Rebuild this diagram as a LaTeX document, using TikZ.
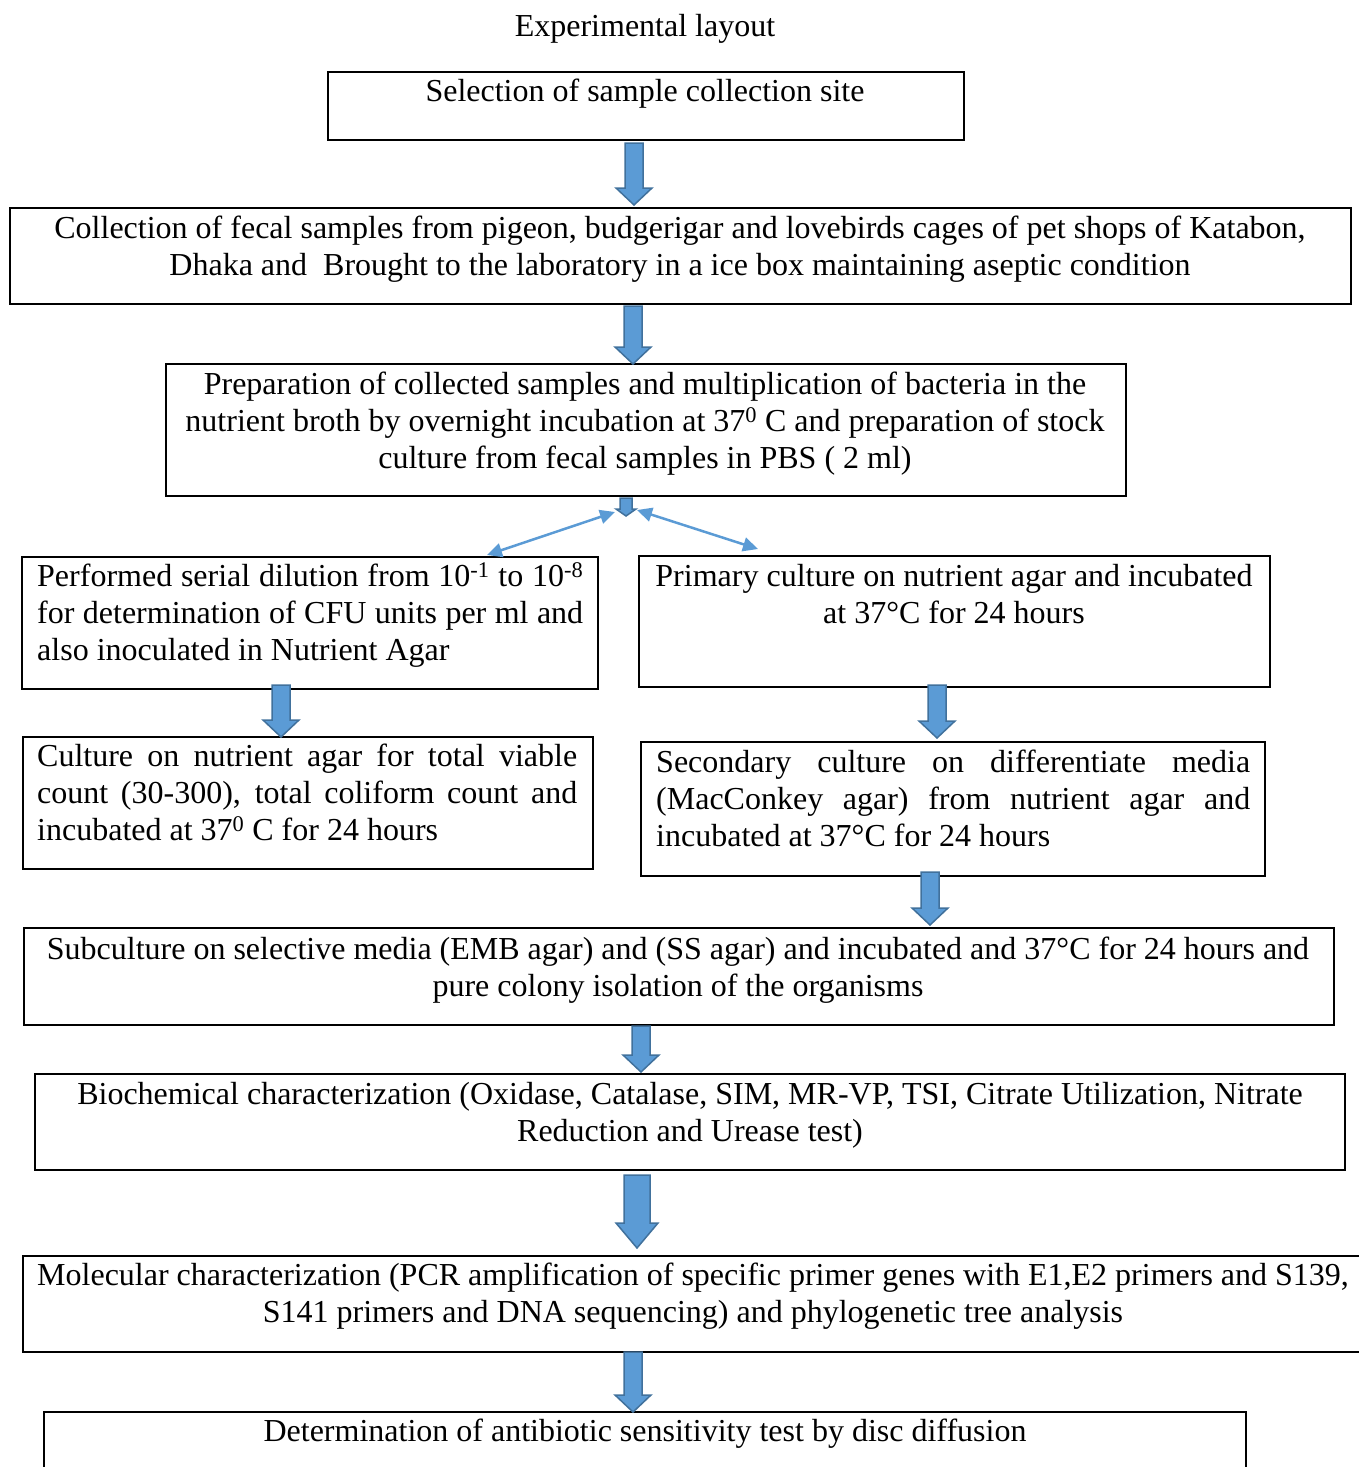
\documentclass[tikz,border=0pt]{standalone}
\usepackage{fontspec}
\setmainfont{Liberation Serif}
\usetikzlibrary{arrows.meta}
\definecolor{afill}{HTML}{5B9BD5}
\definecolor{aline}{HTML}{41719C}
\tikzset{
  box/.style={draw=black,line width=2pt,inner sep=0pt,rectangle},
  txt/.style={font=\fontsize{32}{37}\selectfont,inner sep=0pt,anchor=north},
  barr/.style={fill=afill,draw=aline,line width=1.5pt,line join=miter},
  thin/.style={draw=afill,line width=2.5pt,{Triangle[length=15pt,width=14pt]}-{Triangle[length=15pt,width=14pt]}}
}
\newcommand{\bx}[5]{\node[box,minimum width={#4-#2},minimum height={#5-#3}] (#1) at ({(#2+#4)/2},{(#3+#5)/2}) {};}
\newcommand{\barrowdraw}[6]{\draw[barr] (#1-#4,#2) -- (#1+#4,#2) -- (#1+#4,#3-#6) -- (#1+#5,#3-#6) -- (#1,#3) -- (#1-#5,#3-#6) -- (#1-#4,#3-#6) -- cycle;}
\begin{document}
\begin{tikzpicture}[x=1pt,y=-1pt]
\useasboundingbox (0,0) rectangle (1359,1467);
\node[txt] (title) at (645,26-16) {\strut Experimental layout};
% boxes
\bx{b1}{328}{72}{964}{140}
\bx{b2}{10}{208}{1351}{304}
\bx{b3}{166}{364}{1126}{496}
\bx{b4}{22}{557}{598}{689}
\bx{b5}{639}{556}{1270}{687}
\bx{b6}{23}{737}{593}{869}
\bx{b7}{641}{742}{1265}{876}
\bx{b8}{24}{928}{1334}{1025}
\bx{b9}{35}{1074}{1345}{1170}
\bx{b10}{23}{1256}{1375}{1352}
\bx{b11}{44}{1412}{1246}{1485}
% texts
\node[txt] (t1) at (645,91-16) {\strut Selection of sample collection site};
\node[txt,align=center] (t2) at (680,228-16) {\strut Collection of fecal samples from pigeon, budgerigar and lovebirds cages of pet shops of Katabon,\\Dhaka and \ Brought to the laboratory in a ice box maintaining aseptic condition};
\node[txt,align=center] (t3) at (645,384-16) {\strut Preparation of collected samples and multiplication of bacteria in the\\nutrient broth by overnight incubation at 37\textsuperscript{0} C and preparation of stock\\culture from fecal samples in PBS ( 2 ml)};
\node[txt,anchor=north west,text width=546pt,align=justify] (t4) at (37,576-16) {\strut Performed serial dilution from 10\textsuperscript{-1} to 10\textsuperscript{-8}\linebreak for determination of CFU units per ml and\linebreak also inoculated in Nutrient Agar};
\node[txt,align=center] (t5) at (954,576-16) {\strut Primary culture on nutrient agar and incubated\\at 37°C for 24 hours};
\node[txt,anchor=north west,text width=540pt,align=justify] (t6) at (37,756-16) {\strut Culture on nutrient agar for total viable\linebreak count (30-300), total coliform count and\linebreak incubated at 37\textsuperscript{0} C for 24 hours};
\node[txt,anchor=north west,text width=594pt,align=justify] (t7) at (656,762-16) {\strut Secondary culture on differentiate media\linebreak (MacConkey agar) from nutrient agar and\linebreak incubated at 37°C for 24 hours};
\node[txt,align=center] (t8) at (678,949-16) {\strut Subculture on selective media (EMB agar) and (SS agar) and incubated and 37°C for 24 hours and\\pure colony isolation of the organisms};
\node[txt,align=center] (t9) at (690,1094-16) {\strut Biochemical characterization (Oxidase, Catalase, SIM, MR-VP, TSI, Citrate Utilization, Nitrate\\Reduction and Urease test)};
\node[txt,align=center] (t10) at (693,1275-16) {\strut Molecular characterization (PCR amplification of specific primer genes with E1,E2 primers and S139,\\S141 primers and DNA sequencing) and phylogenetic tree analysis};
\node[txt] (t11) at (645,1431-16) {\strut Determination of antibiotic sensitivity test by disc diffusion};
% block arrows
\barrowdraw{634}{143}{205}{9}{18}{17}
\barrowdraw{633}{306}{364}{9}{18}{17}
\barrowdraw{626}{498}{516}{6}{10}{7}
\barrowdraw{281}{685}{737}{9}{18}{17}
\barrowdraw{937}{685}{738}{9}{18}{17}
\barrowdraw{930}{872}{925}{9}{18}{17}
\barrowdraw{641}{1026}{1072}{9}{18}{17}
\barrowdraw{637}{1175}{1248}{13}{21}{25}
\barrowdraw{633}{1352}{1412}{9}{18}{17}
% thin connectors
\coordinate (sl) at (615,512);
\coordinate (el) at (487,555);
\coordinate (sr) at (637,510);
\coordinate (er) at (758,549);
\draw[thin] (sl) -- (el);
\draw[thin] (sr) -- (er);
\end{tikzpicture}
\end{document}
